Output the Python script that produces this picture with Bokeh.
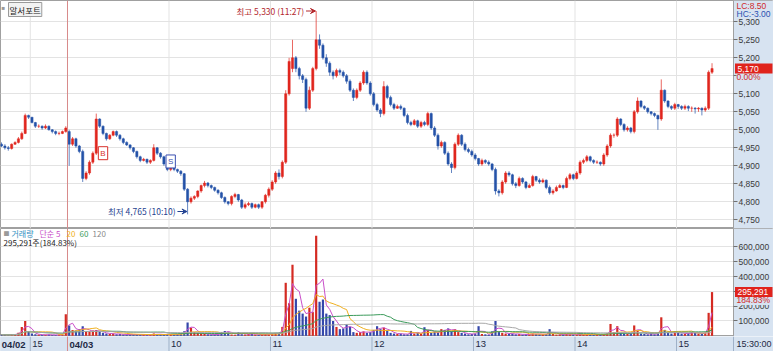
import numpy as np
import pandas as pd
from bokeh.plotting import figure
from bokeh.models import (ColumnDataSource, Range1d, FixedTicker, NumeralTickFormatter,
                          Span, Label, Arrow, VeeHead, BoxAnnotation)
from bokeh.layouts import column
from bokeh.embed import file_html
from bokeh.resources import INLINE
from bokeh.core.properties import value

# ---------------- data (2-minute bars) ----------------
stock_name = "알서포트"
clock_label = "15:30:00"
lc_text = "LC:8.50"
hc_text = "HC:-3.00"
last_pct_text = "0.00%"
vol_ratio_text = "184.83%"
high_time_text = "11:27"
low_time_text = "10:10"

day1_times = pd.date_range("2025-04-02 14:42", "2025-04-02 15:20", freq="2min")
day2_times = pd.date_range("2025-04-03 09:00", "2025-04-03 15:20", freq="2min")

day1_open = [4960, 4955, 4950, 4948, 4960, 4965, 4975, 4990, 5040, 5035,
             5020, 5010, 5010, 5005, 5010, 5000, 4995, 4990, 4990, 4995]
day1_high = [4965, 4960, 4955, 4962, 4968, 4980, 4995, 5045, 5042, 5035,
             5022, 5015, 5012, 5015, 5012, 5002, 4998, 4995, 4998, 5010]
day1_low = [4952, 4945, 4942, 4945, 4958, 4962, 4972, 4988, 5030, 5018,
            5005, 5005, 5000, 5002, 4998, 4990, 4985, 4985, 4988, 4992]
day1_close = [4955, 4950, 4948, 4960, 4965, 4975, 4990, 5040, 5035, 5020,
              5010, 5010, 5005, 5010, 5000, 4995, 4990, 4990, 4995, 5005]
day1_volume = [8000, 6000, 5000, 9000, 12000, 20000, 60000, 100000, 30000, 15000,
               10000, 8000, 6000, 7000, 8000, 6000, 5000, 7000, 9000, 145000]

day2_open = [
    4995, 4960, 4975, 4955, 4940, 4865, 4880, 4910, 4935, 5030,
    5010, 4990, 4975, 4985, 4995, 4985, 4975, 4965, 4958, 4950,
    4940, 4925, 4915, 4918, 4910, 4915, 4950, 4935, 4925, 4905,
    4890, 4895, 4890, 4885, 4878, 4835, 4800, 4810, 4815, 4830,
    4845, 4852, 4845, 4840, 4832, 4825, 4812, 4800, 4795, 4815,
    4820, 4805, 4785, 4792, 4795, 4785, 4792, 4785, 4800, 4818,
    4835, 4855, 4880, 4870, 4910, 5100, 5170, 5200, 5170, 5150,
    5140, 5060, 5110, 5170, 5250, 5235, 5200, 5185, 5160, 5150,
    5165, 5160, 5150, 5135, 5110, 5090, 5110, 5130, 5160, 5130,
    5100, 5070, 5055, 5045, 5120, 5090, 5070, 5060, 5065, 5060,
    5040, 5020, 5015, 5025, 5010, 5020, 5015, 5045, 5005, 4985,
    4955, 4965, 4935, 4905, 4895, 4960, 4985, 4960, 4945, 4940,
    4930, 4920, 4905, 4915, 4910, 4905, 4890, 4830, 4825, 4855,
    4880, 4875, 4850, 4845, 4865, 4855, 4840, 4845, 4870, 4860,
    4855, 4860, 4840, 4825, 4830, 4840, 4845, 4840, 4865, 4875,
    4865, 4880, 4910, 4915, 4925, 4915, 4910, 4910, 4905, 4930,
    4955, 4985, 4985, 5030, 5015, 5000, 5005, 4995, 5050, 5080,
    5065, 5060, 5050, 5045, 5040, 5030, 5110, 5080, 5065, 5060,
    5070, 5065, 5060, 5065, 5060, 5060, 5058, 5060, 5055, 5060,
    5160]
day2_high = [
    5000, 4980, 4978, 4958, 4945, 4885, 4915, 4940, 5045, 5032,
    5012, 4992, 4988, 4998, 4998, 4988, 4978, 4968, 4960, 4952,
    4942, 4928, 4922, 4920, 4918, 4960, 4952, 4938, 4928, 4908,
    4900, 4898, 4892, 4888, 4880, 4838, 4815, 4818, 4832, 4848,
    4858, 4855, 4848, 4842, 4835, 4828, 4815, 4802, 4818, 4825,
    4822, 4808, 4798, 4800, 4798, 4795, 4795, 4802, 4822, 4840,
    4860, 4885, 4890, 4915, 5110, 5200, 5250, 5205, 5175, 5155,
    5145, 5120, 5175, 5330, 5265, 5240, 5210, 5190, 5165, 5170,
    5170, 5165, 5155, 5140, 5115, 5115, 5135, 5165, 5165, 5135,
    5105, 5075, 5060, 5135, 5125, 5095, 5075, 5070, 5070, 5062,
    5045, 5025, 5030, 5028, 5025, 5025, 5050, 5048, 5010, 4990,
    4970, 4968, 4940, 4910, 4965, 4990, 4988, 4965, 4950, 4945,
    4935, 4922, 4920, 4918, 4915, 4908, 4895, 4835, 4860, 4885,
    4885, 4878, 4855, 4870, 4868, 4858, 4850, 4875, 4872, 4865,
    4865, 4862, 4845, 4835, 4845, 4850, 4848, 4870, 4880, 4878,
    4885, 4915, 4920, 4930, 4928, 4918, 4915, 4912, 4935, 4960,
    4990, 4990, 5035, 5032, 5018, 5010, 5008, 5055, 5090, 5082,
    5068, 5062, 5052, 5048, 5042, 5140, 5112, 5082, 5068, 5075,
    5072, 5068, 5070, 5068, 5065, 5063, 5063, 5062, 5065, 5165,
    5185]
day2_low = [
    4900, 4955, 4950, 4935, 4855, 4860, 4875, 4905, 4930, 5005,
    4985, 4970, 4972, 4982, 4980, 4970, 4960, 4955, 4945, 4935,
    4920, 4910, 4912, 4905, 4905, 4912, 4930, 4920, 4900, 4885,
    4885, 4885, 4880, 4872, 4830, 4765, 4795, 4805, 4810, 4825,
    4840, 4840, 4835, 4828, 4820, 4808, 4795, 4790, 4790, 4810,
    4800, 4780, 4780, 4788, 4780, 4782, 4780, 4780, 4795, 4812,
    4830, 4850, 4862, 4865, 4905, 5095, 5160, 5160, 5140, 5130,
    5050, 5055, 5105, 5165, 5225, 5195, 5175, 5150, 5140, 5145,
    5152, 5145, 5128, 5105, 5080, 5085, 5105, 5125, 5125, 5095,
    5065, 5050, 5035, 5040, 5085, 5065, 5055, 5058, 5055, 5035,
    5015, 5010, 5012, 5005, 5005, 5010, 5010, 5000, 4980, 4945,
    4950, 4930, 4900, 4880, 4890, 4955, 4955, 4940, 4935, 4925,
    4915, 4900, 4900, 4905, 4900, 4885, 4820, 4815, 4820, 4850,
    4870, 4845, 4838, 4842, 4850, 4835, 4838, 4842, 4855, 4850,
    4852, 4835, 4820, 4820, 4828, 4838, 4835, 4838, 4860, 4860,
    4862, 4875, 4905, 4910, 4910, 4905, 4905, 4900, 4900, 4925,
    4950, 4978, 4980, 5010, 4995, 4995, 4990, 4990, 5045, 5060,
    5055, 5045, 5040, 5035, 5000, 5025, 5075, 5060, 5055, 5055,
    5058, 5055, 5055, 5052, 5050, 5045, 5050, 5040, 5050, 5055,
    5155]
day2_close = [
    4960, 4975, 4955, 4940, 4865, 4880, 4910, 4935, 5030, 5010,
    4990, 4975, 4985, 4995, 4985, 4975, 4965, 4958, 4950, 4940,
    4925, 4915, 4918, 4910, 4915, 4950, 4935, 4925, 4905, 4890,
    4895, 4890, 4885, 4878, 4835, 4800, 4810, 4815, 4830, 4845,
    4852, 4845, 4840, 4832, 4825, 4812, 4800, 4795, 4815, 4820,
    4805, 4785, 4792, 4795, 4785, 4792, 4785, 4800, 4818, 4835,
    4855, 4880, 4870, 4910, 5100, 5190, 5200, 5170, 5150, 5140,
    5060, 5110, 5170, 5250, 5235, 5200, 5185, 5160, 5150, 5165,
    5160, 5150, 5135, 5110, 5090, 5110, 5130, 5160, 5130, 5100,
    5070, 5055, 5045, 5120, 5090, 5070, 5060, 5065, 5060, 5040,
    5020, 5015, 5025, 5010, 5020, 5015, 5045, 5005, 4985, 4955,
    4965, 4935, 4905, 4895, 4960, 4985, 4960, 4945, 4940, 4930,
    4920, 4905, 4915, 4910, 4905, 4890, 4830, 4825, 4855, 4880,
    4875, 4850, 4845, 4865, 4855, 4840, 4845, 4870, 4860, 4855,
    4860, 4840, 4825, 4830, 4840, 4845, 4840, 4865, 4875, 4865,
    4880, 4910, 4915, 4925, 4915, 4910, 4910, 4905, 4930, 4955,
    4985, 4985, 5030, 5015, 5000, 5005, 4995, 5050, 5080, 5065,
    5060, 5050, 5045, 5040, 5030, 5110, 5080, 5065, 5060, 5070,
    5065, 5060, 5065, 5060, 5060, 5058, 5060, 5055, 5060, 5160,
    5170]
day2_volume = [
    70000, 40000, 35000, 45000, 65000, 30000, 25000, 35000, 40000, 25000,
    20000, 15000, 12000, 15000, 10000, 12000, 8000, 8000, 10000, 9000,
    8000, 7000, 8000, 6000, 7000, 15000, 9000, 8000, 10000, 12000,
    10000, 9000, 12000, 15000, 30000, 90000, 55000, 25000, 20000, 15000,
    12000, 10000, 8000, 9000, 8000, 25000, 33000, 28000, 8000, 7000,
    25000, 10000, 8000, 12000, 15000, 8000, 7000, 9000, 12000, 10000,
    15000, 20000, 18000, 60000, 358000, 220000, 480000, 250000, 170000, 150000,
    130000, 190000, 160000, 675000, 230000, 245000, 150000, 140000, 100000, 60000,
    45000, 50000, 78000, 60000, 25000, 20000, 25000, 30000, 20000, 25000,
    40000, 65000, 45000, 55000, 35000, 20000, 15000, 12000, 15000, 10000,
    10000, 33000, 15000, 20000, 15000, 58000, 40000, 20000, 25000, 20000,
    45000, 40000, 50000, 30000, 45000, 25000, 20000, 15000, 10000, 12000,
    15000, 65000, 12000, 10000, 8000, 30000, 100000, 25000, 20000, 15000,
    12000, 15000, 10000, 12000, 8000, 10000, 8000, 15000, 12000, 10000,
    10000, 12000, 45000, 12000, 8000, 10000, 9000, 12000, 10000, 9000,
    8000, 10000, 8000, 9000, 10000, 8000, 7000, 8000, 12000, 15000,
    80000, 25000, 65000, 20000, 15000, 12000, 15000, 70000, 35000, 15000,
    12000, 10000, 15000, 10000, 12000, 125000, 40000, 20000, 15000, 30000,
    20000, 15000, 12000, 18000, 25000, 20000, 15000, 12000, 20000, 155000,
    295291]

price_ticks = [4750, 4800, 4850, 4900, 4950, 5000, 5050, 5100, 5150, 5200, 5250, 5300]
volume_ticks = [100000, 200000, 300000, 400000, 500000, 600000]

tick_times = ["2025-04-02 14:42", "2025-04-02 15:00", "2025-04-03 09:00", "2025-04-03 10:00",
              "2025-04-03 11:00", "2025-04-03 12:00", "2025-04-03 13:00", "2025-04-03 14:00",
              "2025-04-03 15:00"]
tick_labels = ["04/02", "15", "04/03", "10", "11", "12", "13", "14", "15"]
tick_is_date = [True, False, True, False, False, False, False, False, False]

signal_times = ["2025-04-03 09:20", "2025-04-03 10:00"]
signal_types = ["B", "S"]
signal_prices = [4935, 4912]

ma_minutes = [5, 20, 60, 120]
ma_colors = ["#c94fc9", "#f0b020", "#3b9b5b", "#a8a8a8"]

# ---------------- styling / layout constants ----------------
UP, DN = "#e0261e", "#2452a8"
VUP, VDN = "#d42a22", "#3447aa"
TAG_RED = "#e0231c"
AXIS_BG = "#d7e3f1"
GRID = "#e3e3e3"
KR = "Noto Sans CJK KR"
NUM = "Liberation Sans"
PX_PER_MIN = 1.6917
X0 = 0.4
FRAME_W, AXIS_W = 733, 40
BAR_MIN = 2
SESSION_GAP = 40
P_TOP, P_BOT = 5359.2, 4725.8
V_TOP, V_BOT = 724700, -4700
P_PX = 228 / (P_TOP - P_BOT)      # pixels per price unit
V_PX = 108 / (V_TOP - V_BOT)      # pixels per share

x_end = X0 + FRAME_W / PX_PER_MIN
x_end_full = X0 + (FRAME_W + AXIS_W) / PX_PER_MIN


def to_slot(ts):
    ts = pd.Timestamp(ts)
    if ts.normalize() == day1_times[0].normalize():
        return (ts - day1_times[0]).total_seconds() / 60
    return SESSION_GAP + (ts - day2_times[0]).total_seconds() / 60


times = list(day1_times) + list(day2_times)
o = np.array(day1_open + day2_open, float)
h = np.array(day1_high + day2_high, float)
l = np.array(day1_low + day2_low, float)
c = np.array(day1_close + day2_close, float)
v = np.array(day1_volume + day2_volume, float)
xs = np.array([to_slot(t) + BAR_MIN / 2 for t in times])
up = c >= o

src = ColumnDataSource(dict(
    x=xs, o=o, h=h, l=l, c=c, v=v,
    top=np.maximum(o, c), bot=np.minimum(o, c),
    color=[UP if u else DN for u in up],
    vcolor=[VUP if u else VDN for u in up],
))

vs = pd.Series(v)
ma_src = ColumnDataSource(dict(x=xs, **{
    f"ma{m}": vs.rolling(int(np.ceil(m / BAR_MIN)), min_periods=1).mean().values for m in ma_minutes}))

tick_x = [to_slot(t) for t in tick_times]
day_break = to_slot("2025-04-03 09:00")


def make_panel(height, y_range, ticks):
    fig = figure(frame_width=FRAME_W + AXIS_W, frame_height=height,
                 x_range=Range1d(X0, x_end_full), y_range=y_range,
                 output_backend="svg", toolbar_location=None,
                 x_axis_location=None, y_axis_location="right", min_border=0,
                 border_fill_color=AXIS_BG, background_fill_color="white",
                 outline_line_color="#a0a0a0")
    ax = fig.yaxis[0]
    ax.fixed_location = x_end
    ax.ticker = FixedTicker(ticks=ticks)
    ax.formatter = NumeralTickFormatter(format="0,0")
    ax.major_label_text_font_size = "8.5px"
    ax.major_label_text_font = NUM
    ax.major_label_text_color = "#3a3a3a"
    ax.major_tick_out = 4
    ax.major_tick_in = 0
    ax.minor_tick_line_color = None
    ax.axis_line_color = "#a0a0a0"
    ax.major_tick_line_color = "#707070"
    ax.major_label_standoff = 1
    fig.ygrid.ticker = FixedTicker(ticks=ticks)
    fig.ygrid.grid_line_color = GRID
    fig.xgrid.grid_line_color = None
    fig.add_layout(BoxAnnotation(left=x_end, fill_color=AXIS_BG, fill_alpha=1.0,
                                 line_color=None, level="underlay"))
    for tx in tick_x:
        if tx == day_break or tx == tick_x[0]:
            continue
        fig.add_layout(Span(location=tx, dimension="height", line_color=GRID, line_width=1,
                            level="underlay"))
    fig.add_layout(Span(location=day_break, dimension="height", line_color="#d88a8a", line_width=1))
    return fig


def value_tag(fig, val, text, sub_text, half_px, px_per_unit):
    """Red box on the right axis at a value, with a red caption below it."""
    fig.add_layout(Label(x=x_end, y=val, x_offset=3, y_offset=-8, text=sub_text,
                         text_baseline="middle", text_color="#d02a2a", text_font=NUM,
                         text_font_size="8.5px", background_fill_color=AXIS_BG))
    fig.add_layout(BoxAnnotation(left=x_end + 1.5 / PX_PER_MIN, right=x_end_full - 1 / PX_PER_MIN,
                                 bottom=val - half_px / px_per_unit, top=val + half_px / px_per_unit,
                                 fill_color=TAG_RED, fill_alpha=1.0, line_color=None))
    fig.add_layout(Label(x=x_end, y=val, x_offset=4, text=text, text_baseline="middle",
                         text_color="white", text_font=NUM, text_font_size="8.5px"))


# ---------------- price panel ----------------
p = make_panel(228, Range1d(P_BOT, P_TOP), price_ticks)

p.segment(x0="x", y0="h", x1="x", y1="l", source=src, line_color="color", line_width=1, line_alpha=0.7)
p.vbar(x="x", width=1.3, top="top", bottom="bot", source=src, fill_color="color",
       line_color="color", line_width=0.5)

# stock name box
p.add_layout(Label(x=X0, y=P_TOP, x_offset=1, y_offset=-7, text="■", text_color="#9a9a9a",
                   text_font=NUM, text_font_size="6px", text_baseline="middle"))
p.add_layout(Label(x=X0, y=P_TOP, x_offset=8, y_offset=-2, text=stock_name, text_color="#222222",
                   text_font=KR, text_font_size="8.5px", text_baseline="top", padding=1,
                   background_fill_color="#f2f2f2", border_line_color="#9a9a9a"))

# high / low annotations
i_hi = int(np.argmax(h))
i_lo = int(np.argmin(l))
hi_txt = f"최고 {int(h[i_hi]):,} ({high_time_text})"
lo_txt = f"최저 {int(l[i_lo]):,} ({low_time_text})"
p.add_layout(Label(x=xs[i_hi], y=h[i_hi], x_offset=-12, text=hi_txt, text_align="right",
                   text_baseline="middle", text_color="#b3282d", text_font=KR, text_font_size="8.5px"))
p.add_layout(Arrow(x_start=xs[i_hi] - 6, y_start=h[i_hi], x_end=xs[i_hi] - 0.4, y_end=h[i_hi],
                   line_color="#b3282d", line_width=1,
                   end=VeeHead(size=5, line_color="#b3282d", fill_color="#b3282d")))
p.add_layout(Label(x=xs[i_lo], y=l[i_lo], x_offset=-12, y_offset=3, text=lo_txt, text_align="right",
                   text_baseline="middle", text_color="#1f3f8f", text_font=KR, text_font_size="8.5px"))
p.add_layout(Arrow(x_start=xs[i_lo] - 6, y_start=l[i_lo] + 8, x_end=xs[i_lo] - 0.4, y_end=l[i_lo] + 8,
                   line_color="#1f3f8f", line_width=1,
                   end=VeeHead(size=5, line_color="#1f3f8f", fill_color="#1f3f8f")))

# buy / sell signal markers
for st, sty, spr in zip(signal_times, signal_types, signal_prices):
    col = "#d8322c" if sty == "B" else "#3a4fb0"
    p.add_layout(Label(x=to_slot(st) + BAR_MIN / 2, y=spr, text=sty, text_align="center",
                       text_baseline="middle", text_color=col, text_font=NUM, text_font_size="8px",
                       padding=2, background_fill_color="white", border_line_color=col))

# right-axis texts
p.add_layout(Label(x=x_end, y=P_TOP, x_offset=3, y_offset=0, text=lc_text, text_baseline="top",
                   text_color="#d02a2a", text_font=NUM, text_font_size="8.5px"))
p.add_layout(Label(x=x_end, y=P_TOP, x_offset=3, y_offset=-8, text=hc_text, text_baseline="top",
                   text_color="#2a4fb0", text_font=NUM, text_font_size="8.5px"))
value_tag(p, c[-1], f"{int(c[-1]):,}", last_pct_text, 5, P_PX)

# ---------------- volume panel ----------------
pv = make_panel(108, Range1d(V_BOT, V_TOP), volume_ticks)
pv.x_range = p.x_range

pv.vbar(x="x", width=1.3, top="v", bottom=0, source=src, fill_color="vcolor", line_color=None)
for m, col in zip(ma_minutes, ma_colors):
    pv.line(x="x", y=f"ma{m}", source=ma_src, line_color=col, line_width=1)

legend_items = [("■", "#9a9a9a", 3, "6px"), ("거래량", "#2f8fc2", 11, "8px"),
                (f"단순 {ma_minutes[0]}", ma_colors[0], 39, "8px"),
                (str(ma_minutes[1]), ma_colors[1], 66, "8px"),
                (str(ma_minutes[2]), ma_colors[2], 79, "8px"),
                (str(ma_minutes[3]), "#8a8a8a", 92, "8px")]
for txt, col, off, fs in legend_items:
    pv.add_layout(Label(x=X0, y=V_TOP, x_offset=off, y_offset=-5, text=txt, text_color=col,
                        text_font=KR, text_font_size=fs, text_baseline="middle"))
pv.add_layout(Label(x=X0, y=V_TOP, x_offset=3, y_offset=-14,
                    text=f"{int(v[-1]):,}주({vol_ratio_text})", text_color="#222222",
                    text_font=KR, text_font_size="8px", text_baseline="middle"))
value_tag(pv, v[-1], f"{int(v[-1]):,}", vol_ratio_text, 5, V_PX)

# ---------------- time strip ----------------
ps = figure(frame_width=FRAME_W + AXIS_W, frame_height=15, x_range=Range1d(X0, x_end_full),
            y_range=Range1d(0, 1), output_backend="svg", toolbar_location=None,
            x_axis_location=None, y_axis_location=None, min_border=0,
            border_fill_color=AXIS_BG, background_fill_color=AXIS_BG, outline_line_color=None)
ps.xgrid.grid_line_color = None
ps.ygrid.grid_line_color = None
tsrc = ColumnDataSource(dict(
    x=tick_x, y=[0.5] * len(tick_x), text=tick_labels,
    style=["bold" if d else "normal" for d in tick_is_date]))
ps.segment(x0="x", y0=0, x1="x", y1=1, source=tsrc, line_color="#9fb1c8", line_width=1)
ps.add_layout(Span(location=day_break, dimension="height", line_color="#d88a8a", line_width=1))
ps.add_layout(Span(location=x_end, dimension="height", line_color="#9fb1c8", line_width=1))
ps.text(x="x", y="y", text="text", source=tsrc, x_offset=2, text_align="left",
        text_baseline="middle", text_font=value(NUM), text_font_size="9.5px",
        text_font_style="style", text_color="#1e2a44")
ps.add_layout(Label(x=x_end, y=0.5, x_offset=3, text=clock_label, text_baseline="middle",
                    text_color="#1e2a44", text_font=NUM, text_font_size="9px"))

layout = column(p, pv, ps, spacing=0)
open("out.html", "w").write(file_html(layout, INLINE))
